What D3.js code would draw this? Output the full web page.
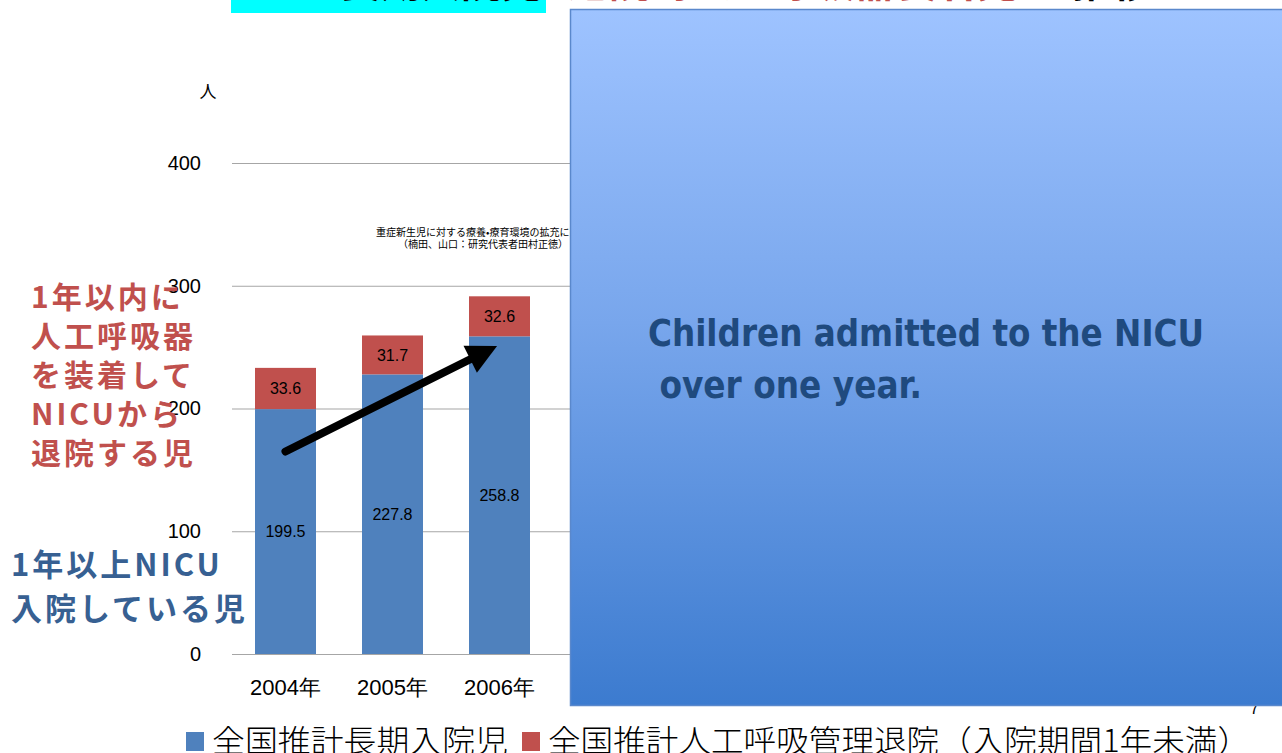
<!DOCTYPE html>
<html><head><meta charset="utf-8">
<script src="https://cdn.jsdelivr.net/npm/d3@7"></script>
<style>
html,body{margin:0;padding:0;background:#fff;overflow:hidden;}
svg{display:block;}
</style></head>
<body>
<svg id="c" width="1282" height="753"></svg>
<script>
// ---- data ----
const years = ["2004年", "2005年", "2006年"];
const longTermStay = [199.5, 227.8, 258.8];        // 全国推計長期入院児
const ventDischarge = [33.6, 31.7, 32.6];          // 全国推計人工呼吸管理退院（入院期間1年未満）
const yTicks = [0, 100, 200, 300, 400];
const legendLabels = ["全国推計長期入院児", "全国推計人工呼吸管理退院（入院期間1年未満）"];
const redNoteLines = ["1年以内に", "人工呼吸器", "を装着して", "NICUから", "退院する児"];
const blueNoteLines = ["1年以上NICU", "入院している児"];
const boxLines = ["Children admitted to the NICU", " over one year."];
const sourceLines = ["重症新生児に対する療養•療育環境の拡充に関する総合研究", "（楠田、山口：研究代表者田村正徳）"];
const titleParts = ["NICU長期入院児", "と", "退院時人工呼吸器装着児", "の推移"];

const BLUE = "#4f81bd", RED = "#c0504d";
const svg = d3.select("#c");
const defs = svg.append("defs");

// ---- scales ----
const y = d3.scaleLinear().domain([0, 400]).range([654, 163]);
const x = d3.scaleBand().domain(years).range([232, 553]).paddingInner(0.43).paddingOuter(0.215);

// ---- title (mostly cut off above the frame) ----
svg.append("rect").attr("x", 231).attr("y", -40).attr("width", 315).attr("height", 53).attr("fill", "#00ffff");
const tFont = "'Noto Sans CJK JP', sans-serif";
const tSpec = [
  {t: titleParts[0], x: 240, w: 302, c: "#000"},
  {t: titleParts[1], x: 548, w: 20, c: "#000"},
  {t: titleParts[2], x: 568, w: 450, c: RED},
  {t: titleParts[3], x: 1032, w: 120, c: "#000"}
];
svg.selectAll("text.title").data(tSpec).join("text").attr("class", "title")
  .attr("x", d => d.x).attr("y", -3).attr("fill", d => d.c)
  .attr("font-family", tFont).attr("font-weight", 700).attr("font-size", 40)
  .attr("textLength", d => d.w).attr("lengthAdjust", "spacingAndGlyphs")
  .text(d => d.t);

// ---- gridlines ----
svg.append("g").selectAll("line").data(yTicks).join("line")
  .attr("x1", 232).attr("x2", 575)
  .attr("y1", d => y(d) + 0.5).attr("y2", d => y(d) + 0.5)
  .attr("stroke", "#a6a6a6").attr("stroke-width", 1.2);

// ---- y axis labels ----
const axFont = "'Liberation Sans', Arial, sans-serif";
const yAxis = d3.axisLeft(y).tickValues(yTicks).tickSize(0).tickPadding(0);
const gy = svg.append("g").attr("transform", "translate(201,0)").call(yAxis);
gy.select(".domain").remove();
gy.selectAll("text").attr("font-family", axFont).attr("font-size", 20).attr("fill", "#000");
svg.append("text").attr("x", 208).attr("y", 98).attr("text-anchor", "middle")
  .attr("font-family", "'Noto Sans CJK JP', sans-serif").attr("font-size", 17).text("人");

// ---- x axis labels ----
const xAxis = d3.axisBottom(x).tickSize(0).tickPadding(0);
const gx = svg.append("g").attr("transform", "translate(0,676)").call(xAxis);
gx.select(".domain").remove();
gx.selectAll("text").attr("font-family", axFont).attr("font-size", 22).attr("fill", "#000")
  .attr("dy", "0.85em");

// ---- bars ----
const rows = years.map((yr, i) => ({yr, a: longTermStay[i], b: ventDischarge[i]}));
const bars = svg.append("g");
bars.selectAll("rect.a").data(rows).join("rect").attr("class", "a")
  .attr("x", d => x(d.yr)).attr("width", x.bandwidth())
  .attr("y", d => y(d.a)).attr("height", d => y(0) - y(d.a)).attr("fill", BLUE);
bars.selectAll("rect.b").data(rows).join("rect").attr("class", "b")
  .attr("x", d => x(d.yr)).attr("width", x.bandwidth())
  .attr("y", d => y(d.a + d.b)).attr("height", d => y(d.a) - y(d.a + d.b)).attr("fill", RED);
bars.selectAll("text.la").data(rows).join("text").attr("class", "la")
  .attr("x", d => x(d.yr) + x.bandwidth() / 2).attr("y", d => y(d.a / 2))
  .attr("dy", "0.35em").attr("text-anchor", "middle")
  .attr("font-family", axFont).attr("font-size", 16).text(d => d.a.toFixed(1));
bars.selectAll("text.lb").data(rows).join("text").attr("class", "lb")
  .attr("x", d => x(d.yr) + x.bandwidth() / 2).attr("y", d => y(d.a + d.b / 2))
  .attr("dy", "0.35em").attr("text-anchor", "middle")
  .attr("font-family", axFont).attr("font-size", 16).text(d => d.b.toFixed(1));

// ---- source note (small text) ----
svg.selectAll("text.src").data(sourceLines).join("text").attr("class", "src")
  .attr("x", (d, i) => i === 0 ? 376 : 398).attr("y", (d, i) => 236 + i * 12)
  .attr("font-family", "'Noto Sans CJK JP', sans-serif").attr("font-size", 10).attr("fill", "#000")
  .text(d => d);

// ---- arrow annotation (data space) ----
const arrowFrom = {yr: years[0], off: 0.5, v: 165};
const arrowTo = {yr: years[2], off: 0.46, v: 251};
const ax0 = x(arrowFrom.yr) + x.bandwidth() * arrowFrom.off, ay0 = y(arrowFrom.v);
const ax1 = x(arrowTo.yr) + x.bandwidth() * arrowTo.off, ay1 = y(arrowTo.v);
const ang = Math.atan2(ay1 - ay0, ax1 - ax0);
const headLen = 30, headHalf = 15;
const bx = ax1 - headLen * Math.cos(ang), by = ay1 - headLen * Math.sin(ang);
svg.append("line").attr("x1", ax0).attr("y1", ay0)
  .attr("x2", bx + 4 * Math.cos(ang)).attr("y2", by + 4 * Math.sin(ang))
  .attr("stroke", "#000").attr("stroke-width", 8).attr("stroke-linecap", "round");
const px = -Math.sin(ang), py = Math.cos(ang);
svg.append("path").attr("d", d3.line()([
  [ax1, ay1],
  [bx + headHalf * px, by + headHalf * py],
  [bx - headHalf * px, by - headHalf * py]
]) + "Z").attr("fill", "#000");

// ---- left side notes ----
const noteFont = "'Noto Sans CJK JP', sans-serif";
svg.selectAll("text.rn").data(redNoteLines).join("text").attr("class", "rn")
  .attr("x", 31).attr("y", (d, i) => 308 + i * 39)
  .attr("font-family", noteFont).attr("font-weight", 700).attr("font-size", 30)
  .attr("letter-spacing", 3)
  .attr("fill", RED).text(d => d);
svg.selectAll("text.bn").data(blueNoteLines).join("text").attr("class", "bn")
  .attr("x", 11).attr("y", (d, i) => 576 + i * 44)
  .attr("font-family", noteFont).attr("font-weight", 700).attr("font-size", 31)
  .attr("letter-spacing", 3)
  .attr("fill", "#376092").text(d => d);

// ---- page number mark (mostly hidden) ----
svg.append("text").attr("x", 1250).attr("y", 714)
  .attr("font-family", axFont).attr("font-size", 16).attr("fill", "#000").text("7");

// ---- overlay box ----
const grad = defs.append("linearGradient").attr("id", "g").attr("x1", 0).attr("y1", 0).attr("x2", 0).attr("y2", 1);
grad.append("stop").attr("offset", 0).attr("stop-color", "#9ec3ff");
grad.append("stop").attr("offset", 0.45).attr("stop-color", "#78a6ec");
grad.append("stop").attr("offset", 1).attr("stop-color", "#3c7bcf");
svg.append("rect").attr("x", 570.5).attr("y", 9.5).attr("width", 730).attr("height", 696)
  .attr("fill", "url(#g)").attr("stroke", "#5a88cc").attr("stroke-width", 1.5);
const boxSpec = [{t: boxLines[0], x: 648, y: 346, w: 556}, {t: boxLines[1], x: 648, y: 398, w: 274}];
svg.selectAll("text.box").data(boxSpec).join("text").attr("class", "box")
  .attr("x", d => d.x).attr("y", d => d.y).attr("xml:space", "preserve")
  .style("white-space", "pre")
  .attr("font-family", "'DejaVu Sans Condensed', 'DejaVu Sans', sans-serif").attr("font-weight", 700)
  .attr("font-size", 38).attr("fill", "#1f4a7e")
  .attr("textLength", d => d.w).attr("lengthAdjust", "spacingAndGlyphs")
  .text(d => d.t);

// ---- legend ----
const legX = [186, 522];
const lg = svg.append("g");
lg.selectAll("rect").data(legendLabels).join("rect")
  .attr("x", (d, i) => legX[i]).attr("y", 732).attr("width", 18).attr("height", 19)
  .attr("fill", (d, i) => i === 0 ? BLUE : RED);
lg.selectAll("text").data(legendLabels).join("text")
  .attr("x", (d, i) => legX[i] + 26).attr("y", 752)
  .attr("font-family", "'Noto Sans CJK JP', sans-serif").attr("font-weight", 300)
  .attr("font-size", 31).attr("fill", "#000")
  .attr("textLength", (d, i) => i === 0 ? 296 : 702).attr("lengthAdjust", "spacingAndGlyphs")
  .text(d => d);
</script>
</body></html>
